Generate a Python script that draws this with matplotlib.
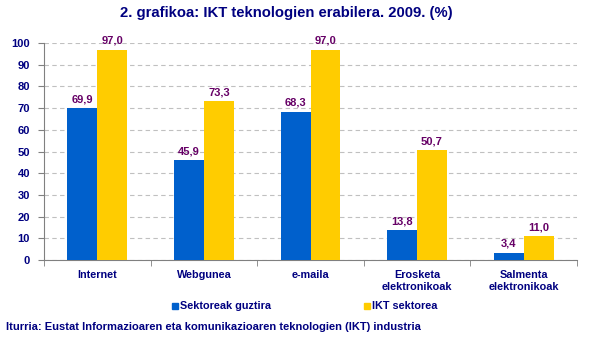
import numpy as np
import matplotlib.pyplot as plt
from matplotlib.patches import Rectangle

categories = ["Internet", "Webgunea", "e-maila", "Erosketa\nelektronikoak", "Salmenta\nelektronikoak"]
sektoreak_guztira = [69.9, 45.9, 68.3, 13.8, 3.4]
ikt_sektorea = [97.0, 73.3, 97.0, 50.7, 11.0]
series_names = ["Sektoreak guztira", "IKT sektorea"]
y_ticks = [0, 10, 20, 30, 40, 50, 60, 70, 80, 90, 100]

navy = "#000080"
purple = "#660066"
blue = "#0060CC"
yellow = "#FFCC00"

plt.rcParams["font.family"] = ["Liberation Sans", "DejaVu Sans"]
plt.rcParams["font.weight"] = "bold"

fig = plt.figure(figsize=(5.9, 3.42), dpi=100)
ax = fig.add_axes([44 / 590, 82 / 342, (577 - 44) / 590, (260 - 43) / 342])

x = np.arange(len(categories))
w = 0.28
b1 = ax.bar(x - w / 2, sektoreak_guztira, w, color=blue, zorder=3)
b2 = ax.bar(x + w / 2, ikt_sektorea, w, color=yellow, zorder=3)

for bars, vals in ((b1, sektoreak_guztira), (b2, ikt_sektorea)):
    for r, v in zip(bars, vals):
        ax.text(r.get_x() + r.get_width() / 2, v + 1.8, f"{v:.1f}".replace(".", ","),
                ha="center", va="bottom", fontsize=8, color=purple, fontweight="bold")

ax.set_xlim(-0.5, len(categories) - 0.5)
ax.set_ylim(0, 100)
ax.set_yticks(y_ticks)
ax.set_yticklabels([str(t) for t in y_ticks], fontsize=8, color=navy, fontweight="bold")
ax.set_xticks(x)
ax.set_xticklabels(categories, fontsize=7.8, color=navy, fontweight="bold", linespacing=1.25)
ax.set_xticks(np.arange(-0.5, len(categories)), minor=True)
ax.tick_params(axis="x", which="major", length=0, pad=7)
ax.tick_params(axis="x", which="minor", length=4, color="#808080", direction="out")
ax.tick_params(axis="y", length=4, color="#808080", pad=6)

ax.yaxis.grid(True, linestyle=(0, (4, 3)), color="#C0C0C0", linewidth=0.8, zorder=0)
for s in ("top", "right"):
    ax.spines[s].set_visible(False)
for s in ("left", "bottom"):
    ax.spines[s].set_color("#808080")

fig.text(286 / 590, 1 - 13.5 / 342, "2. grafikoa: IKT teknologien erabilera. 2009. (%)",
         ha="center", va="center", fontsize=10.7, color=navy, fontweight="bold")

# legend
for px, col, name in ((172, blue, series_names[0]), (364, yellow, series_names[1])):
    fig.patches.append(Rectangle((px / 590, 1 - 309 / 342), 6 / 590, 6 / 342,
                                 transform=fig.transFigure, color=col))
    fig.text((px + 8) / 590, 1 - 306 / 342, name, ha="left", va="center",
             fontsize=7.8, color=navy, fontweight="bold")

fig.text(6 / 590, 1 - 327 / 342,
         "Iturria: Eustat Informazioaren eta komunikazioaren teknologien (IKT) industria",
         ha="left", va="center", fontsize=8, color=navy, fontweight="bold")

fig.savefig("out.png", dpi=100)
